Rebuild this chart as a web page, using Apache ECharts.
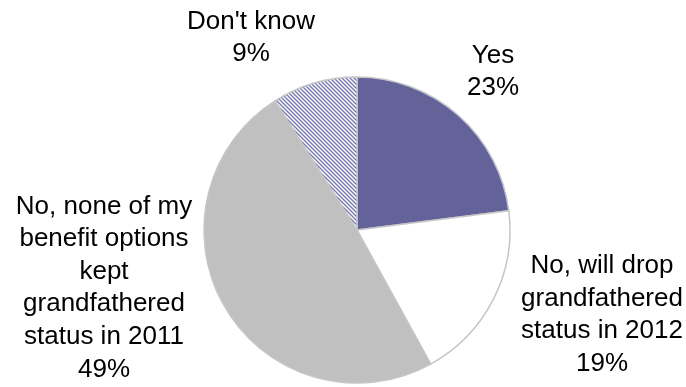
<!DOCTYPE html>
<html>
<head>
<meta charset="utf-8">
<script src="https://cdn.jsdelivr.net/npm/echarts@6/dist/echarts.min.js"></script>
<style>
  html, body { margin: 0; padding: 0; background: #fff; }
  #chart { width: 686px; height: 387px; }
</style>
</head>
<body>
<div id="chart"></div>
<script>
// Survey answers, clockwise from 12 o'clock
const categories = [
  'Yes',
  'No, will drop\ngrandfathered\nstatus in 2012',
  'No, none of my\nbenefit options\nkept\ngrandfathered\nstatus in 2011',
  "Don't know"
];
const shares = [23, 19, 49, 9];

// Label anchor points (centre of each text block)
const labelAnchors = [
  [493, 72],
  [602, 315],
  [104, 288],
  [251, 38]
];

// Diagonal hatch used for the "Don't know" slice
function hatchPattern() {
  const size = 4;
  const c = document.createElement('canvas');
  c.width = size; c.height = size;
  const ctx = c.getContext('2d');
  ctx.fillStyle = '#ffffff';
  ctx.fillRect(0, 0, size, size);
  ctx.strokeStyle = '#7a7ab2';
  ctx.lineWidth = 1.4;
  ctx.beginPath();
  ctx.moveTo(-1, -1); ctx.lineTo(size + 1, size + 1);
  ctx.moveTo(-1 - size, -1); ctx.lineTo(1, size + 1);
  ctx.moveTo(size - 1, -1); ctx.lineTo(2 * size + 1, size + 1);
  ctx.stroke();
  return { image: c, repeat: 'repeat' };
}

const fills = ['#63639a', '#ffffff', '#c0c0c0', hatchPattern()];

const chart = echarts.init(document.getElementById('chart'), null, { renderer: 'canvas' });
chart.setOption({
  backgroundColor: '#ffffff',
  animation: false,
  series: [{
    type: 'pie',
    center: [357, 230],
    radius: 153,
    startAngle: 90,
    clockwise: true,
    avoidLabelOverlap: false,
    data: categories.map((name, i) => ({
      name: name,
      value: shares[i],
      itemStyle: { color: fills[i] }
    })),
    itemStyle: {
      borderColor: '#c6c6c6',
      borderWidth: 1.5
    },
    label: {
      show: true,
      position: 'outside',
      formatter: '{b}\n{c}%',
      fontFamily: '"Liberation Sans", Arial, sans-serif',
      fontSize: 26,
      lineHeight: 32.6,
      color: '#000000',
      align: 'center'
    },
    labelLine: { show: false },
    labelLayout: function (params) {
      const p = labelAnchors[params.dataIndex];
      return { x: p[0], y: p[1], align: 'center', verticalAlign: 'middle' };
    },
    emphasis: { disabled: true }
  }]
});
</script>
</body>
</html>
